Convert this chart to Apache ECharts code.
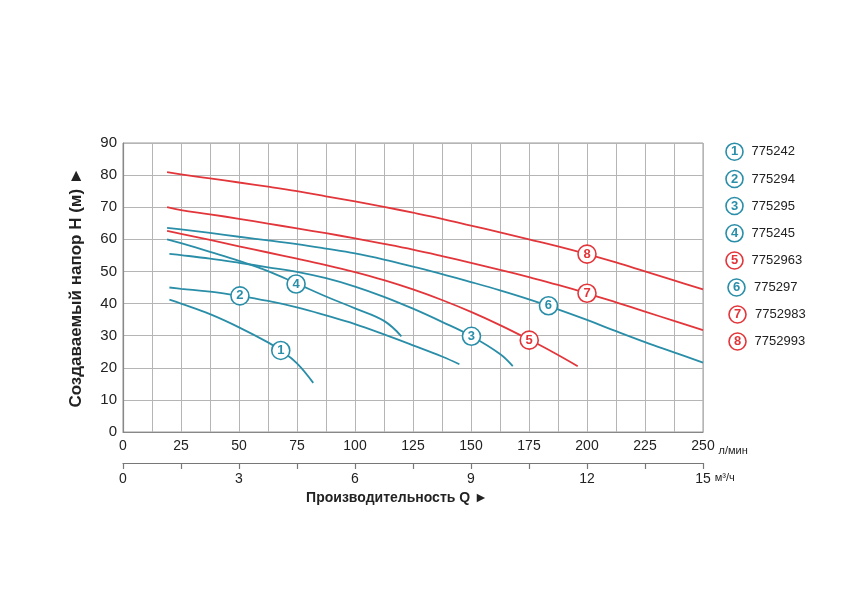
<!DOCTYPE html>
<html>
<head>
<meta charset="utf-8">
<script src="https://cdn.jsdelivr.net/npm/echarts@6/dist/echarts.min.js"></script>
<style>html,body{margin:0;padding:0;background:#fff}#c{width:859px;height:605px}</style>
</head>
<body>
<div id="c"></div>
<script>
// Flow Q (л/мин) vs head H (м)
const curve1 = [[20,41.2],[25,40],[37.5,36.7],[50,32.6],[62.5,27.9],[68,25.4],[75,21.4],[82,15.3]];
const curve2 = [[20,45],[25,44.6],[37.5,43.7],[50,42.4],[62.5,40.8],[75,38.8],[87.5,36.3],[100,33.6],[112.5,30.4],[125,27],[137.5,23.5],[145,21.1]];
const curve3 = [[20,55.5],[25,55.1],[37.5,54],[50,52.7],[62.5,51.3],[75,49.9],[87.5,47.9],[100,45.3],[112.5,42.1],[125,38.4],[137.5,34.3],[150,29.9],[162.5,24.3],[168,20.5]];
const curve4 = [[19,60],[25,58.8],[37.5,56.1],[50,53.3],[62.5,50.1],[75,46.2],[87.5,42.2],[100,38.5],[112.5,34.6],[120,29.8]];
const curve5 = [[19,62.6],[25,61.7],[37.5,59.8],[50,57.8],[62.5,55.9],[75,54],[87.5,52],[100,49.8],[112.5,47.3],[125,44.4],[137.5,41.1],[150,37.4],[162.5,33.3],[175,28.8],[185,25],[196,20.5]];
const curve6 = [[19,63.6],[25,63.1],[37.5,62],[50,60.8],[62.5,59.7],[75,58.5],[87.5,57.1],[100,55.6],[112.5,53.7],[125,51.5],[137.5,49.2],[150,46.7],[162.5,44.1],[175,41.3],[187.5,38.2],[200,34.9],[212.5,31.4],[225,28],[237.5,24.8],[250,21.6]];
const curve7 = [[19,70],[25,69.1],[37.5,67.8],[50,66.4],[62.5,64.9],[75,63.4],[87.5,61.9],[100,60.3],[112.5,58.6],[125,56.8],[137.5,54.8],[150,52.7],[162.5,50.5],[175,48.2],[187.5,45.8],[200,43.2],[212.5,40.4],[225,37.5],[237.5,34.6],[250,31.7]];
const curve8 = [[19,80.9],[25,80.2],[37.5,79],[50,77.7],[62.5,76.4],[75,75],[87.5,73.4],[100,71.8],[112.5,70.1],[125,68.3],[137.5,66.4],[150,64.3],[162.5,62.2],[175,60],[187.5,57.8],[200,55.4],[212.5,52.8],[225,50],[237.5,47.2],[250,44.4]];
const models = ['775242','775294','775295','775245','7752963','775297','7752983','7752993'];
const labelAt = [[68,25.4],[50.4,42.4],[150.2,29.8],[74.6,46.1],[175.1,28.6],[183.4,39.3],[200,43.2],[200,55.4]];
const isRed = [false,false,false,false,true,false,true,true];
const xTicksLmin = [0,25,50,75,100,125,150,175,200,225,250];
const xTicksM3h = [0,3,6,9,12,15];

const RED = '#e2363b', TEAL = '#2a8ea8';
const curves = [curve1,curve2,curve3,curve4,curve5,curve6,curve7,curve8];
const FONT = 'Liberation Sans, Arial, sans-serif';

const series = curves.map((d,i)=>{
  const col = isRed[i] ? RED : TEAL;
  return {
    type:'line', name: models[i], data:d, smooth:0.4, showSymbol:false, xAxisIndex:0,
    lineStyle:{color:col, width:1.8}, itemStyle:{color:col}, z: isRed[i]?3:2,
    markPoint:{
      symbol:'circle', symbolSize:18, silent:true,
      itemStyle:{color:'#fff', borderColor:col, borderWidth:1.6},
      label:{show:true, formatter:String(i+1), color:col, fontSize:13, fontWeight:'bold', fontFamily:FONT},
      data:[{coord:labelAt[i]}]
    }
  };
});

const legendRows = [[734.5,751.5,151.7],[734.5,751.5,179],[734.5,751.5,206],[734.5,751.5,233.3],[734.5,751.5,260.5],[736.5,754,287.5],[737.5,755,314.5],[737.5,754.5,341.5]];
const graphic = [];
models.forEach((m,i)=>{
  const col = isRed[i] ? RED : TEAL;
  const r = legendRows[i];
  graphic.push({type:'circle', shape:{cx:r[0], cy:r[2], r:8.5}, style:{fill:'#fff', stroke:col, lineWidth:1.6}});
  graphic.push({type:'text', x:r[0], y:r[2], style:{text:String(i+1), fill:col, font:'bold 13px '+FONT, textAlign:'center', textVerticalAlign:'middle'}});
  graphic.push({type:'text', x:r[1], y:r[2], style:{text:m, fill:'#222', font:'13px '+FONT, textAlign:'left', textVerticalAlign:'middle'}});
});

const chart = echarts.init(document.getElementById('c'));
chart.setOption({
  animation:false,
  backgroundColor:'#fff',
  grid:{left:123, right:156, top:143, bottom:173, show:true, borderColor:'#9a9a9a', borderWidth:1},
  xAxis:[{
    type:'value', min:0, max:250, interval:12.5, position:'bottom',
    axisLine:{show:true, lineStyle:{color:'#888', width:1.2}},
    axisTick:{show:false},
    splitLine:{show:true, lineStyle:{color:'#b5b5b5', width:1}},
    axisLabel:{margin:7, color:'#222', fontSize:14, fontFamily:FONT,
      formatter:v=> xTicksLmin.indexOf(v)>=0 ? String(v) : ''},
    name:'л/мин', nameLocation:'end', nameGap:4,
    nameTextStyle:{color:'#222', fontSize:11, fontFamily:FONT, align:'left', verticalAlign:'top', padding:[13,0,0,0]}
  },{
    type:'value', min:0, max:15, interval:1.5, position:'bottom', offset:31,
    axisLine:{show:true, onZero:false, lineStyle:{color:'#777', width:1.2}},
    axisTick:{show:true, length:6, lineStyle:{color:'#777', width:1.2}},
    splitLine:{show:false},
    axisLabel:{margin:9, color:'#222', fontSize:14, fontFamily:FONT,
      formatter:v=> xTicksM3h.some(t=>Math.abs(t-v)<1e-6) ? String(Math.round(v)) : ''},
    name:'м³/ч', nameLocation:'end', nameGap:6,
    nameTextStyle:{color:'#222', fontSize:11, fontFamily:FONT, align:'left', verticalAlign:'top', padding:[9,0,0,0]}
  }],
  yAxis:{
    type:'value', min:0, max:90, interval:10,
    axisLine:{show:true, lineStyle:{color:'#888', width:1.2}},
    axisTick:{show:false},
    splitLine:{show:true, lineStyle:{color:'#b5b5b5', width:1}},
    axisLabel:{margin:6, color:'#222', fontSize:15, fontFamily:FONT},
    name:'Создаваемый напор H (м) ►', nameLocation:'middle', nameGap:38, nameRotate:90,
    nameTextStyle:{color:'#222', fontSize:17, fontWeight:'bold', fontFamily:FONT}
  },
  graphic: graphic.concat([{
    type:'text', x:397, y:498, style:{text:'Производительность Q ►', fill:'#222', font:'bold 14px '+FONT, textAlign:'center', textVerticalAlign:'middle'}
  }]),
  series: series
});
</script>
</body>
</html>
